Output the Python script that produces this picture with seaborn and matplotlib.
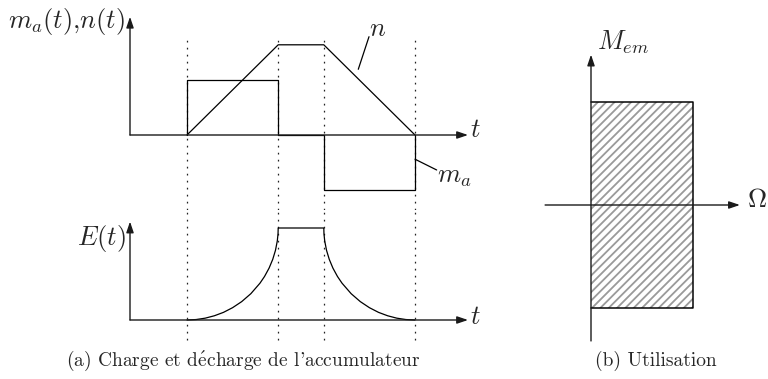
import matplotlib
matplotlib.use("Agg")
import matplotlib.pyplot as plt
import pandas as pd
import seaborn as sns

# ---- data -----------------------------------------------------------------
# instants bounding the charge / hold / discharge phases
phase_times = [1.0, 2.6, 3.4, 5.0]

# accumulator torque m_a(t) (piecewise constant, drawn as steps)
ma_t = [1.0, 1.0, 2.6, 3.4, 5.0]
ma_v = [0.0, 1.0, 0.0, -1.0, 0.0]

# speed n(t)
n_t = [1.0, 2.6, 3.4, 5.0]
n_v = [0.0, 1.64, 1.64, 0.0]

# stored energy E(t)
e_t = [1.0, 1.16, 1.32, 1.48, 1.64, 1.80, 1.96, 2.12, 2.28, 2.36, 2.44,
       2.504, 2.552, 2.584, 2.597, 2.6, 3.4, 3.403, 3.416, 3.448, 3.496,
       3.56, 3.64, 3.72, 3.88, 4.04, 4.2, 4.36, 4.52, 4.68, 4.84, 5.0]
e_v = [0.0, 0.005, 0.020, 0.046, 0.083, 0.134, 0.200, 0.286, 0.400, 0.473,
       0.564, 0.659, 0.757, 0.859, 0.937, 1.0, 1.0, 0.937, 0.859, 0.757,
       0.659, 0.564, 0.473, 0.400, 0.286, 0.200, 0.134, 0.083, 0.046,
       0.020, 0.005, 0.0]

# operating region in the (Omega, M_em) plane
region_omega = [0.0, 1.0]
region_m_low = [-1.0, -1.0]
region_m_high = [1.0, 1.0]
region_outline_omega = [0.0, 1.0, 1.0, 0.0]
region_outline_m = [1.0, 1.0, -1.0, -1.0]

# ---- style ----------------------------------------------------------------
sns.set_theme(style="white")
plt.rcParams["font.family"] = ["cmr10", "DejaVu Serif"]
plt.rcParams["mathtext.fontset"] = "cm"
plt.rcParams["axes.unicode_minus"] = False
plt.rcParams["hatch.color"] = "#9a9a9a"
plt.rcParams["hatch.linewidth"] = 1.3

W, H = 768, 379
fig = plt.figure(figsize=(W / 100, H / 100), dpi=100)
fig.patch.set_facecolor("white")

AX_COL = "#1a1a1a"
AX_LW = 1.0
CURVE_LW = 0.9
LABEL_FS = 19
CAPTION_FS = 14


def place(box, origin, scale):
    """Add an axes over a pixel box with a given data origin and px/unit."""
    x0, y0, x1, y1 = box
    ax = fig.add_axes([x0 / W, 1 - y1 / H, (x1 - x0) / W, (y1 - y0) / H])
    ox, oy = origin
    sx, sy = scale
    ax.set_xlim((x0 - ox) / sx, (x1 - ox) / sx)
    ax.set_ylim((oy - y1) / sy, (oy - y0) / sy)
    ax.set_axis_off()
    return ax


def arrow(ax, start, tip):
    ax.annotate("", xy=tip, xytext=start, annotation_clip=False,
                arrowprops=dict(arrowstyle="-|>,head_length=0.65,head_width=0.22",
                                mutation_scale=10, lw=AX_LW, color=AX_COL,
                                shrinkA=0, shrinkB=0))


dots = (0, (1.4, 4.2))

# ---- (a) top: m_a(t) and n(t) --------------------------------------------
ax1 = place((0, 0, 500, 210), (130, 135), (57, 55))
ax1.vlines(phase_times, -1.364, 1.727, colors="#222222", lw=0.9,
           linestyles=[dots])
arrow(ax1, (0, 0), (5.93, 0))
arrow(ax1, (0, 0), (0, 2.15))
sns.lineplot(data=pd.DataFrame({"t": ma_t, "m_a": ma_v}), x="t", y="m_a",
             ax=ax1, sort=False, estimator=None, color="black",
             lw=CURVE_LW, drawstyle="steps-post")
sns.lineplot(data=pd.DataFrame({"t": n_t, "n": n_v}), x="t", y="n",
             ax=ax1, sort=False, estimator=None, color="black", lw=CURVE_LW)
ax1.set_axis_off()
# leader lines for the curve names
ax1.plot([4.005, 4.193], [1.195, 1.787], color="black", lw=CURVE_LW)
ax1.plot([5.0, 5.38], [-0.44, -0.636], color="black", lw=CURVE_LW)
ax1.text(4.20, 1.93, "$n$", fontsize=LABEL_FS, ha="left", va="center")
ax1.text(5.38, -0.76, "$m_a$", fontsize=LABEL_FS, ha="left", va="center")
ax1.text(5.96, 0.09, "$t$", fontsize=LABEL_FS, ha="left", va="center")
ax1.text(-0.08, 2.07, "$m_a(t)$,$n(t)$", fontsize=LABEL_FS,
         ha="right", va="center")

# ---- (a) bottom: E(t) -----------------------------------------------------
ax2 = place((0, 210, 500, 379), (130, 320), (57, 92))
ax2.vlines(phase_times, -0.217, 1.196, colors="#222222", lw=0.9,
           linestyles=[dots])
arrow(ax2, (0, 0), (5.93, 0))
arrow(ax2, (0, 0), (0, 1.07))
sns.lineplot(data=pd.DataFrame({"t": e_t, "E": e_v}), x="t", y="E",
             ax=ax2, sort=False, estimator=None, color="black", lw=CURVE_LW)
ax2.set_axis_off()
ax2.text(5.96, 0.03, "$t$", fontsize=LABEL_FS, ha="left", va="center")
ax2.text(-0.08, 0.89, "$E(t)$", fontsize=LABEL_FS, ha="right", va="center")

# ---- (b) operating region --------------------------------------------------
ax3 = place((520, 0, 768, 379), (591, 205), (102, 103))
ax3.fill_between(region_omega, region_m_low, region_m_high, facecolor="none",
                 edgecolor="#9a9a9a", hatch="////", linewidth=0)
sns.lineplot(data=pd.DataFrame({"Omega": region_outline_omega,
                                "M": region_outline_m}),
             x="Omega", y="M", ax=ax3, sort=False, estimator=None,
             color="black", lw=CURVE_LW * 1.2)
arrow(ax3, (-0.45, 0), (1.46, 0))
arrow(ax3, (0, -1.32), (0, 1.46))
ax3.set_axis_off()
ax3.text(0.06, 1.58, "$M_{em}$", fontsize=LABEL_FS, ha="left", va="center")
ax3.text(1.53, 0.05, r"$\Omega$", fontsize=LABEL_FS, ha="left", va="center")

# ---- captions --------------------------------------------------------------
fig.text(243 / W, 1 - 366 / H,
         r"(a) Charge et d$\mathrm{\acute{e}}$charge de l'accumulateur",
         fontsize=CAPTION_FS, ha="center", va="baseline")
fig.text(656 / W, 1 - 366 / H, "(b) Utilisation",
         fontsize=CAPTION_FS, ha="center", va="baseline")

fig.savefig("out.png", dpi=100, facecolor="white")
